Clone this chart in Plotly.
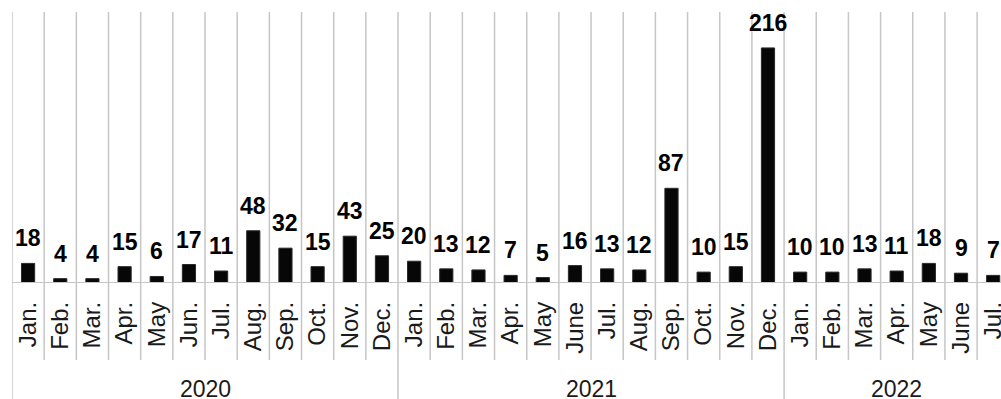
import plotly.graph_objects as go

years = ["2020", "2021", "2022"]
months_2020 = ["Jan.", "Feb.", "Mar.", "Apr.", "May", "Jun.", "Jul.", "Aug.", "Sep.", "Oct.", "Nov.", "Dec."]
months_2021 = ["Jan.", "Feb.", "Mar.", "Apr.", "May", "June", "Jul.", "Aug.", "Sep.", "Oct.", "Nov.", "Dec."]
months_2022 = ["Jan.", "Feb.", "Mar.", "Apr.", "May", "June", "Jul."]
values_2020 = [18, 4, 4, 15, 6, 17, 11, 48, 32, 15, 43, 25]
values_2021 = [20, 13, 12, 7, 5, 16, 13, 12, 87, 10, 15, 216]
values_2022 = [10, 10, 13, 11, 18, 9, 7]

groups = [months_2020, months_2021, months_2022]
months = months_2020 + months_2021 + months_2022
values = values_2020 + values_2021 + values_2022
x = list(range(len(values)))

W, H = 1001, 399
ML, MR, MT, MB = 12, 0, 12, 116
plot_h = H - MT - MB

def paper_y(px):
    return (H - MB - px) / plot_h

GRID = "#c6c6c6"
FONT = "Liberation Sans, Arial, sans-serif"

fig = go.Figure()
fig.add_trace(go.Bar(
    x=x, y=values, width=0.41,
    marker=dict(color="#070707", line=dict(color="#2a2a2a", width=1)),
    hoverinfo="skip",
))

shapes = []
bounds = [0]
for g in groups:
    bounds.append(bounds[-1] + len(g))
for i in range(len(values) + 1):
    is_year = i in bounds
    shapes.append(dict(
        type="line", xref="x", yref="paper",
        x0=i - 0.5, x1=i - 0.5,
        y0=1, y1=paper_y(399 if is_year else 360),
        line=dict(color=GRID, width=1.5), layer="below",
    ))
shapes.append(dict(type="line", xref="paper", yref="y", x0=0, x1=1, y0=0, y1=0,
                   line=dict(color=GRID, width=2), layer="above"))

annotations = []
for xi, v in zip(x, values):
    annotations.append(dict(
        x=xi, y=v, xref="x", yref="y", text=str(v), showarrow=False,
        yanchor="bottom", yshift=10,
        font=dict(family=FONT, size=23, color="#000000", weight="bold"),
    ))
for k, yr in enumerate(years):
    annotations.append(dict(
        x=(bounds[k] + bounds[k + 1] - 1) / 2, y=paper_y(389), xref="x", yref="paper",
        text=yr, showarrow=False, yanchor="middle",
        font=dict(family=FONT, size=23, color="#1a1a1a"),
    ))

fig.update_layout(
    width=W, height=H,
    margin=dict(l=ML, r=MR, t=MT, b=MB, autoexpand=False),
    plot_bgcolor="white", paper_bgcolor="white",
    showlegend=False,
    shapes=shapes, annotations=annotations,
    xaxis=dict(
        range=[-0.5, -0.5 + (W - ML - MR) / 32.17],
        automargin=False,
        tickmode="array", tickvals=x, ticktext=months,
        tickangle=-90, ticks="", showgrid=False, zeroline=False,
        ticklabelstandoff=13, ticklabeloverflow="allow",
        tickfont=dict(family=FONT, size=24, color="#1a1a1a"),
    ),
    yaxis=dict(range=[0, 249], visible=False, showgrid=False, zeroline=False,
               automargin=False),
)

fig.write_html("out.html")
